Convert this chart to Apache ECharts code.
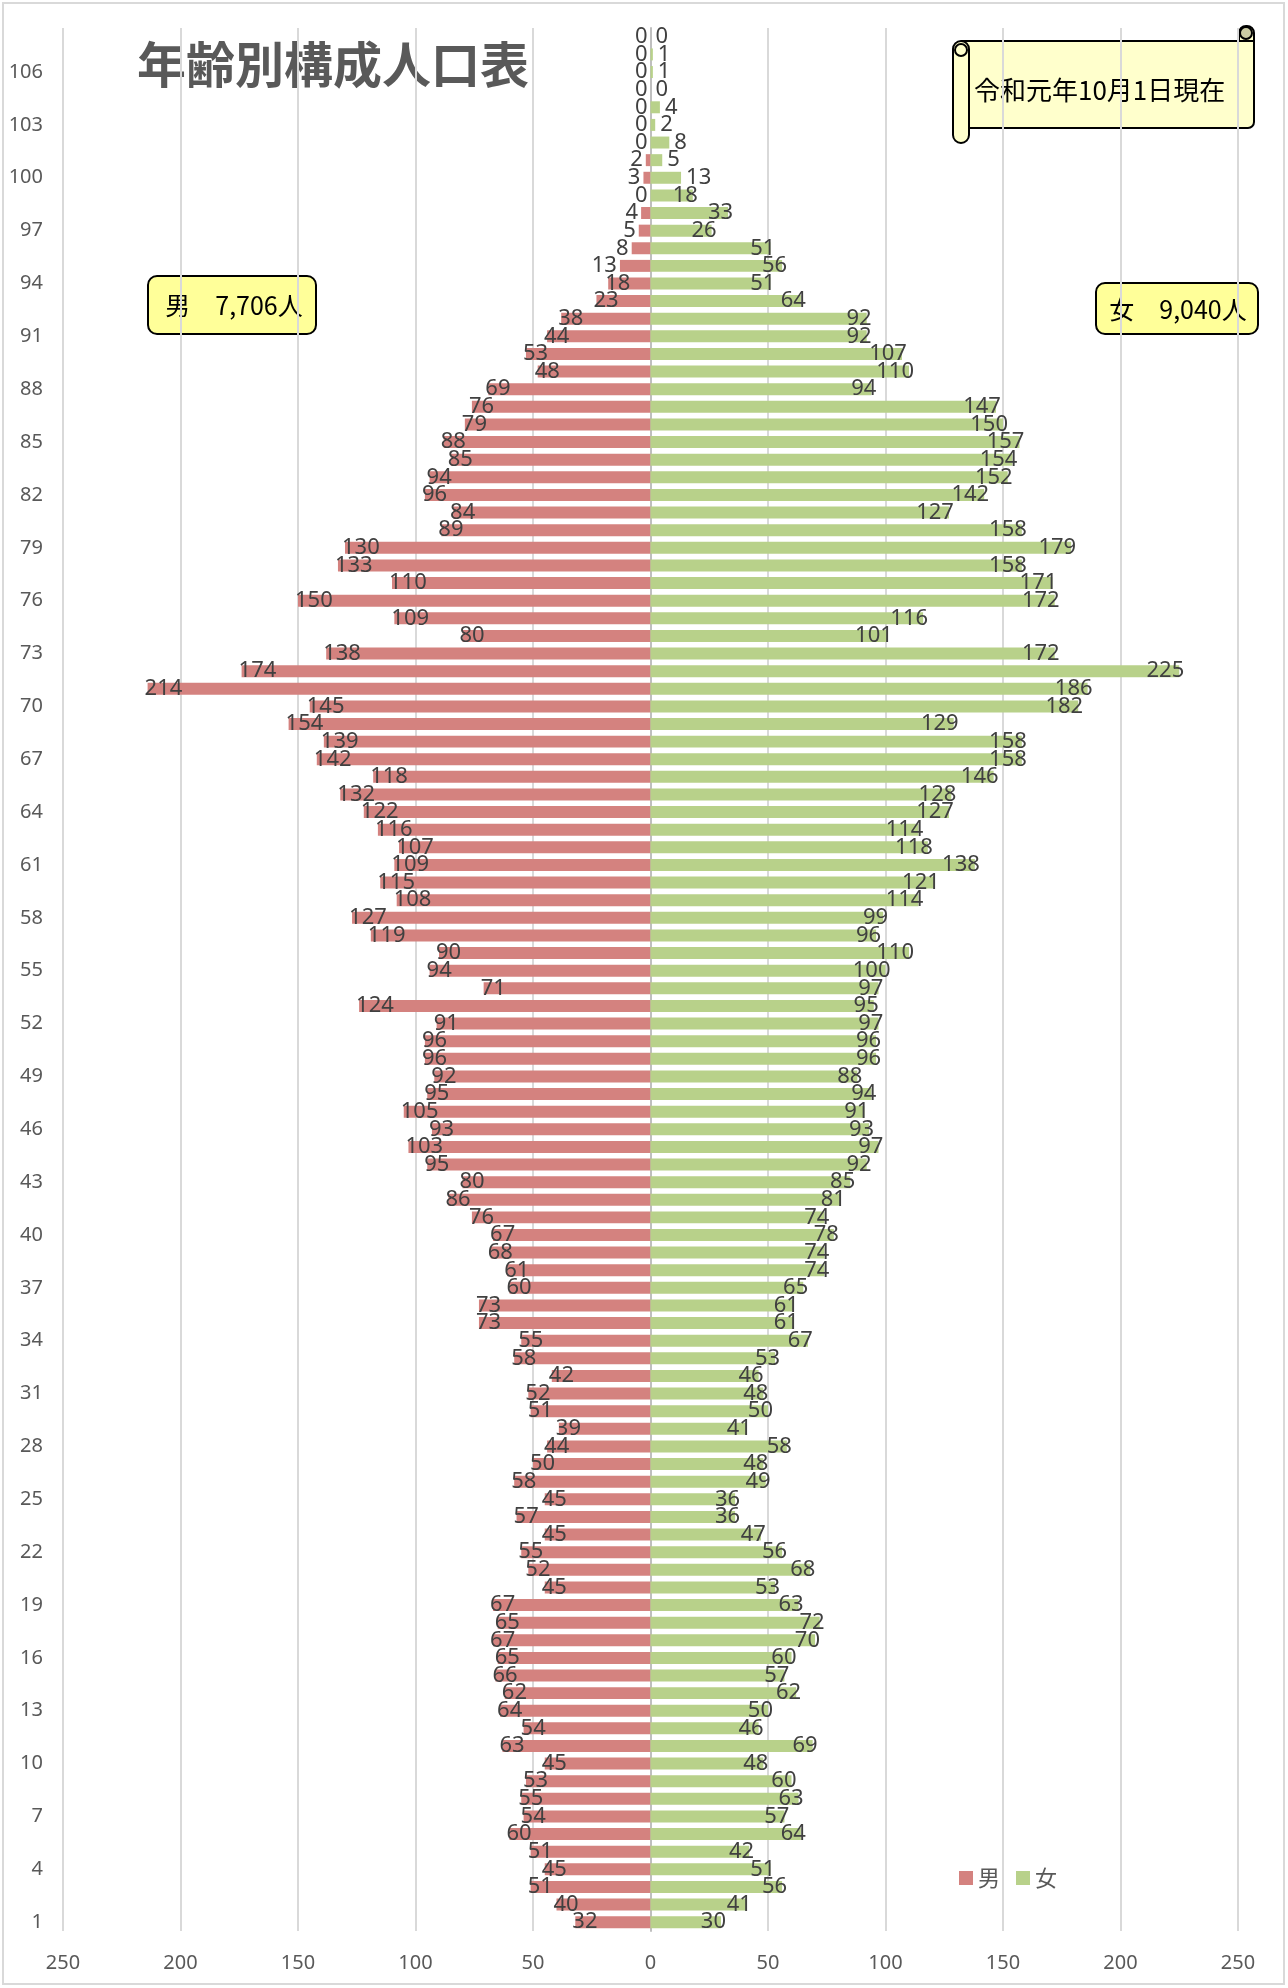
<!DOCTYPE html>
<html><head><meta charset="utf-8">
<script src="https://cdn.jsdelivr.net/npm/echarts@6/dist/echarts.min.js"></script>
<style>html,body{margin:0;padding:0;background:#fff}#c{width:1288px;height:1988px}</style>
</head><body><div id="c"></div>
<script>
// values read from the top row (oldest) down to the bottom row (age 1)
const maleTopDown = [0,0,0,0,0,0,0,2,3,0,4,5,8,13,18,23,38,44,53,48,69,76,79,88,85,94,96,84,89,130,133,110,150,109,80,138,174,214,145,154,139,142,118,132,122,116,107,109,115,108,127,119,90,94,71,124,91,96,96,92,95,105,93,103,95,80,86,76,67,68,61,60,73,73,55,58,42,52,51,39,44,50,58,45,57,45,55,52,45,67,65,67,65,66,62,64,54,63,45,53,55,54,60,51,45,51,40,32];
const femaleTopDown = [0,1,1,0,4,2,8,5,13,18,33,26,51,56,51,64,92,92,107,110,94,147,150,157,154,152,142,127,158,179,158,171,172,116,101,172,225,186,182,129,158,158,146,128,127,114,118,138,121,114,99,96,110,100,97,95,97,96,96,88,94,91,93,97,92,85,81,74,78,74,74,65,61,61,67,53,46,48,50,41,58,48,49,36,36,47,56,68,53,63,72,70,60,57,62,50,46,69,48,60,63,57,64,42,51,56,41,30];
const ages = maleTopDown.map((_, i) => String(i + 1));   // 1 .. 108, bottom to top
const maleValues = maleTopDown.slice().reverse();
const femaleValues = femaleTopDown.slice().reverse();
const xTicks = [-250, -200, -150, -100, -50, 0, 50, 100, 150, 200, 250];
const titleText = '年齢別構成人口表';
const dateText = '令和元年10月1日現在';
const maleTotalText = '男　7,706人';
const femaleTotalText = '女　9,040人';
const seriesNames = ['男', '女'];

const labelFont = {fontFamily: 'Noto Sans, sans-serif', fontSize: 22, color: '#404040'};
const maleData = maleValues.map(v => ({
  value: -v,
  label: v >= 15 ? {position: 'insideLeft', offset: [-8, 0]} : {position: 'left', distance: 3}
}));
const femaleData = femaleValues.map(v => ({
  value: v,
  label: v >= 15 ? {position: 'insideRight', offset: [10, 0]} : {position: 'right', distance: 5}
}));

const chart = echarts.init(document.getElementById('c'), null, {renderer: 'canvas'});
const cjk = '"Noto Sans CJK JP", sans-serif';
chart.setOption({
  animation: false,
  backgroundColor: '#fff',
  grid: {left: 63, right: 50, top: 28, bottom: 57, containLabel: false},
  xAxis: {
    type: 'value', min: xTicks[0], max: xTicks[xTicks.length - 1], interval: 50,
    axisLine: {show: false}, axisTick: {show: false},
    splitLine: {lineStyle: {color: '#d9d9d9', width: 2}},
    axisLabel: {formatter: v => Math.abs(v), fontFamily: 'Noto Sans, sans-serif', fontSize: 20, color: '#595959', margin: 22}
  },
  yAxis: {
    type: 'category', data: ages,
    axisLine: {lineStyle: {color: '#bfbfbf', width: 2}, onZero: true},
    axisTick: {show: false},
    axisLabel: {interval: 2, fontFamily: 'Noto Sans, sans-serif', fontSize: 20, color: '#595959', margin: 20}
  },
  legend: {
    data: seriesNames, left: 954, top: 1862, icon: 'rect', itemWidth: 14, itemHeight: 14, itemGap: 16,
    textStyle: {fontFamily: cjk, fontSize: 22, color: '#595959'}
  },
  series: [
    {name: seriesNames[0], type: 'bar', data: maleData, barWidth: '68%', barGap: '-100%',
     itemStyle: {color: '#d4827f'},
     label: Object.assign({show: true, formatter: p => Math.abs(p.value)}, labelFont)},
    {name: seriesNames[1], type: 'bar', data: femaleData, barWidth: '68%',
     itemStyle: {color: '#b8d18a'},
     label: Object.assign({show: true, formatter: p => p.value}, labelFont)}
  ],
  graphic: [
    {type: 'rect', shape: {x: 3, y: 3, width: 1281, height: 1981}, style: {fill: 'none', stroke: '#d9d9d9', lineWidth: 2}, silent: true},
    {type: 'text', left: 137, top: 40, style: {text: titleText, font: 'bold 49px ' + cjk, fill: '#595959'}},
    // male total box
    {type: 'rect', shape: {x: 148, y: 276, width: 168, height: 58, r: 9}, style: {fill: '#ffff99', stroke: '#000', lineWidth: 2}},
    {type: 'text', x: 234, y: 305, style: {text: maleTotalText, font: '25px ' + cjk, fill: '#000', align: 'center', verticalAlign: 'middle'}},
    // female total box
    {type: 'rect', shape: {x: 1096, y: 283, width: 162, height: 51, r: 9}, style: {fill: '#ffff99', stroke: '#000', lineWidth: 2}},
    {type: 'text', x: 1178, y: 309, style: {text: femaleTotalText, font: '25px ' + cjk, fill: '#000', align: 'center', verticalAlign: 'middle'}},
    // scroll
    {type: 'rect', shape: {x: 1239, y: 26, width: 15, height: 24, r: 7}, style: {fill: '#ffffcc', stroke: '#000', lineWidth: 2}},
    {type: 'rect', shape: {x: 961, y: 41, width: 293, height: 87, r: [0, 0, 6, 0]}, style: {fill: '#ffffcc', stroke: '#000', lineWidth: 2}},
    {type: 'rect', shape: {x: 953, y: 41, width: 16, height: 102, r: 8}, style: {fill: '#ffffcc', stroke: '#000', lineWidth: 2}},
    {type: 'circle', shape: {cx: 961, cy: 50, r: 6}, style: {fill: '#ffffcc', stroke: '#000', lineWidth: 2}},
    {type: 'circle', shape: {cx: 1246, cy: 33, r: 6}, style: {fill: '#cdcda4', stroke: '#000', lineWidth: 2}},
    {type: 'text', left: 974, top: 77, style: {text: dateText, font: '26px ' + cjk, fill: '#000'}}
  ]
});
</script></body></html>
